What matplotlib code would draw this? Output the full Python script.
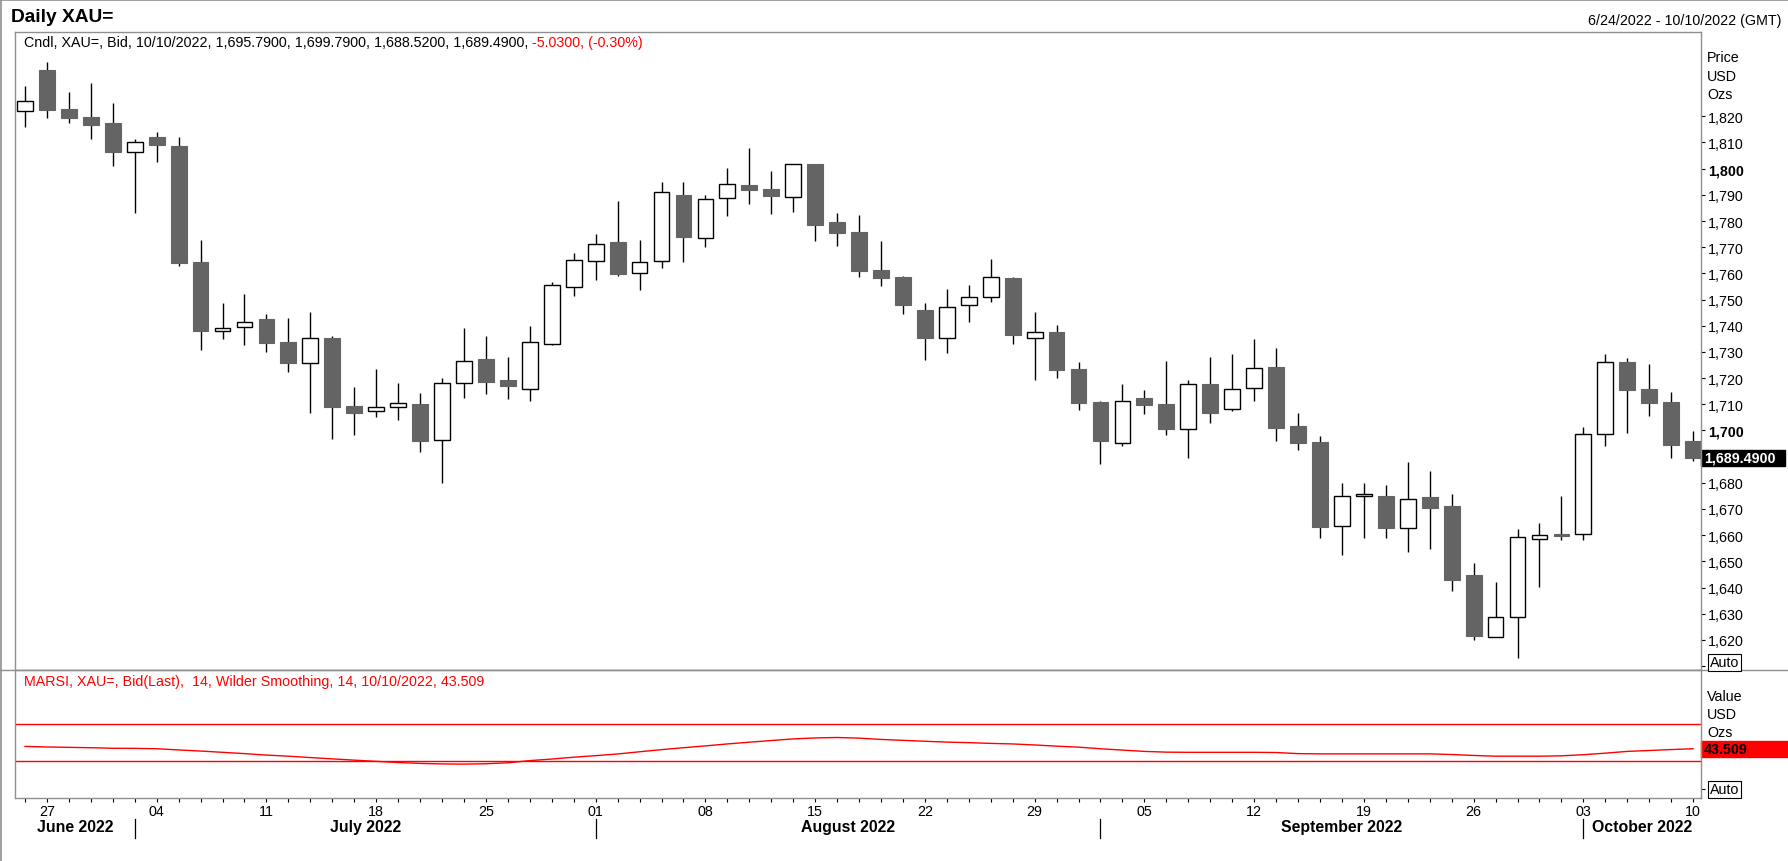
import numpy as np
import pandas as pd
import matplotlib
matplotlib.use("Agg")
import matplotlib.pyplot as plt
import matplotlib.transforms as mtransforms
from matplotlib.patches import Rectangle
from matplotlib.lines import Line2D

plt.rcParams['font.family'] = ['Liberation Sans', 'DejaVu Sans']

# trading days shown on the chart (weekdays 24 Jun - 10 Oct 2022)
dates = pd.bdate_range("2022-06-24", "2022-10-10")

opens = [1821.9, 1837.7, 1822.7, 1819.8, 1817.4, 1806.5, 1812.1, 1808.7, 1764.4, 1738.0,
         1739.5, 1742.6, 1733.8, 1725.7, 1735.4, 1709.4, 1707.4, 1708.9, 1710.2, 1696.2,
         1718.0, 1727.4, 1719.2, 1716.0, 1733.2, 1754.7, 1764.7, 1771.9, 1760.1, 1764.7,
         1790.1, 1773.4, 1788.8, 1793.7, 1792.1, 1789.1, 1801.8, 1779.6, 1775.7, 1761.1,
         1758.5, 1746.2, 1735.2, 1747.8, 1750.9, 1758.2, 1735.2, 1737.7, 1723.5, 1710.9,
         1695.2, 1712.3, 1710.2, 1700.5, 1717.7, 1708.2, 1716.2, 1724.3, 1701.7, 1695.6,
         1663.4, 1674.9, 1675.1, 1662.6, 1674.6, 1671.2, 1644.8, 1621.0, 1628.6, 1658.5,
         1660.5, 1660.3, 1698.5, 1726.0, 1715.7, 1710.8, 1695.79]
highs = [1831.4, 1840.8, 1829.3, 1832.6, 1825.1, 1811.2, 1813.9, 1812.1, 1772.8, 1748.7,
         1752.1, 1744.4, 1743.0, 1745.3, 1736.0, 1716.6, 1723.5, 1718.2, 1714.3, 1719.9,
         1739.2, 1736.1, 1728.1, 1740.0, 1756.7, 1767.7, 1774.9, 1787.5, 1772.8, 1794.9,
         1794.9, 1789.8, 1800.3, 1807.9, 1799.0, 1801.9, 1801.9, 1783.1, 1782.3, 1772.3,
         1759.0, 1748.5, 1754.1, 1755.6, 1765.4, 1758.7, 1745.3, 1740.3, 1726.1, 1711.4,
         1717.7, 1715.4, 1726.6, 1719.1, 1728.1, 1729.2, 1734.9, 1731.5, 1706.7, 1697.9,
         1680.0, 1680.0, 1679.2, 1688.0, 1684.6, 1675.8, 1649.4, 1642.2, 1662.3, 1664.6,
         1675.0, 1701.3, 1729.1, 1727.5, 1725.2, 1714.5, 1699.79]
lows = [1816.1, 1819.4, 1817.6, 1811.5, 1801.2, 1783.2, 1802.7, 1762.7, 1730.9, 1735.0,
        1732.8, 1730.1, 1722.2, 1706.8, 1696.9, 1698.1, 1705.3, 1704.0, 1691.9, 1680.0,
        1712.5, 1714.0, 1712.2, 1711.1, 1732.6, 1751.3, 1757.3, 1759.1, 1753.8, 1762.2,
        1764.5, 1770.2, 1782.0, 1786.6, 1782.5, 1783.5, 1772.2, 1770.6, 1758.8, 1755.0,
        1744.3, 1726.8, 1729.7, 1741.6, 1748.9, 1733.2, 1719.4, 1720.2, 1708.0, 1687.3,
        1693.9, 1706.4, 1698.1, 1689.6, 1702.7, 1707.3, 1711.4, 1695.8, 1692.4, 1659.1,
        1652.6, 1659.1, 1658.8, 1653.4, 1654.9, 1638.5, 1619.8, 1621.0, 1613.2, 1640.1,
        1658.0, 1658.0, 1693.9, 1699.1, 1705.7, 1689.6, 1688.52]
closes = [1826.0, 1822.5, 1819.4, 1816.8, 1806.5, 1810.1, 1808.9, 1764.1, 1738.1, 1739.3,
          1741.6, 1733.5, 1725.7, 1735.2, 1709.1, 1706.5, 1708.8, 1710.6, 1696.1, 1718.3,
          1726.5, 1718.6, 1716.8, 1733.7, 1755.5, 1765.0, 1771.4, 1759.6, 1764.5, 1790.9,
          1774.0, 1788.3, 1794.0, 1792.0, 1789.4, 1801.6, 1778.6, 1775.3, 1760.8, 1758.1,
          1747.8, 1735.5, 1747.3, 1750.9, 1758.5, 1736.6, 1737.5, 1723.2, 1710.3, 1695.8,
          1711.3, 1709.9, 1700.7, 1717.6, 1706.8, 1715.7, 1723.7, 1701.1, 1695.3, 1663.2,
          1674.9, 1675.7, 1662.9, 1673.8, 1670.3, 1642.7, 1621.3, 1628.6, 1659.2, 1659.9,
          1659.6, 1698.8, 1726.0, 1715.5, 1710.6, 1694.52, 1689.49]
rsi_vals = [46.0, 45.4, 45.0, 44.6, 44.0, 43.9, 43.5, 42.2, 41.0, 39.6,
            38.2, 36.6, 35.4, 33.9, 32.5, 31.1, 29.8, 28.5, 27.6, 27.0,
            26.8, 27.2, 28.2, 30.6, 32.3, 34.3, 36.0, 37.8, 40.2, 42.5,
            44.6, 46.6, 48.7, 50.6, 52.4, 54.2, 55.2, 55.7, 55.0, 53.6,
            52.6, 51.6, 50.7, 50.1, 49.3, 48.7, 47.6, 46.3, 45.2, 43.5,
            42.0, 40.6, 39.8, 39.6, 39.6, 39.6, 39.6, 39.4, 38.2, 37.9,
            37.9, 37.9, 37.9, 37.9, 37.9, 37.2, 36.2, 35.4, 35.4, 35.4,
            35.8, 37.0, 38.7, 40.6, 41.6, 42.6, 43.509]
price_ticks = list(range(1610, 1821, 10))
rsi_levels = [70, 30]

W, H = 1788, 862
GRAY = '#8f8f8f'
DARK = '#646464'
FS = 10.3


def fx(x):
    return x / W


def fy(y):
    return 1 - y / H


fig = plt.figure(figsize=(W / 100, H / 100), dpi=100)
left, right = 15, 1701
ax = fig.add_axes([fx(left), fy(671), fx(right - left), (671 - 33) / H])
ax2 = fig.add_axes([fx(left), fy(799), fx(right - left), (799 - 671) / H], sharex=ax)

x = np.arange(len(dates))
o = np.array(opens); h = np.array(highs); l = np.array(lows); c = np.array(closes)

# candles
ax.vlines(x, l, h, color='black', lw=1.0, zorder=1)
bw = 0.72
for i in x:
    lo, hi = min(o[i], c[i]), max(o[i], c[i])
    if c[i] >= o[i]:
        ax.add_patch(Rectangle((i - bw / 2, lo), bw, hi - lo, facecolor='white',
                               edgecolor='black', lw=1.0, zorder=2))
    else:
        ax.add_patch(Rectangle((i - bw / 2, lo), bw, hi - lo, facecolor=DARK,
                               edgecolor=DARK, lw=0.8, zorder=2))

ax.set_xlim(-0.456, 76.36)
ax.set_ylim(1608.5, 1852.2)

# labels hidden under the last-price box are left blank
ax.yaxis.tick_right()
ax.set_yticks(price_ticks, ['' if v == 1610 or abs(v - c[-1]) < 5 else f'{v:,}'
                            for v in price_ticks])
for lab, v in zip(ax.get_yticklabels(), price_ticks):
    if v % 100 == 0:
        lab.set_fontweight('bold')
ax.tick_params(axis='y', direction='out', length=3, width=0.8, pad=2, labelsize=FS)
ax.tick_params(axis='x', bottom=False, labelbottom=False)

# RSI panel
ax2.plot(x, rsi_vals, color='red', lw=1.0)
for lv in rsi_levels:
    ax2.axhline(lv, color='red', lw=1.0)
ax2.set_ylim(-10, 129)
ax2.yaxis.tick_right()
ax2.set_yticks([0], [''])
ax2.tick_params(axis='y', direction='out', length=3, width=0.8)

ax2.set_xticks(x, [d.strftime('%d') if d.weekday() == 0 else '' for d in dates])
ax2.tick_params(axis='x', direction='out', length=3, width=0.8, pad=1.5, labelsize=FS)

for a in (ax, ax2):
    for s in a.spines.values():
        s.set_color(GRAY)
        s.set_linewidth(1.0)

# month separators and labels
trans = mtransforms.blended_transform_factory(ax2.transData, fig.transFigure)
months = dates.to_period('M')
starts = [i for i in range(1, len(dates)) if months[i] != months[i - 1]]
edges = [-0.456] + starts + [76.36]
for s in starts:
    ax2.add_line(Line2D([s, s], [fy(820), fy(839)], transform=trans, color='black',
                        lw=0.9, clip_on=False))
for k in range(len(edges) - 1):
    first = dates[max(int(np.ceil(edges[k])), 0)]
    ax2.text((edges[k] + edges[k + 1]) / 2, fy(828), first.strftime('%B %Y'),
             transform=trans, ha='center', va='center', fontsize=11.4, fontweight='bold')

# last value boxes
tr_main = mtransforms.blended_transform_factory(ax.transAxes, ax.transData)
ax.add_patch(Rectangle((1.0, c[-1] - 3.15), (1785 - right) / (right - left), 6.3,
                       transform=tr_main, facecolor='black', edgecolor='black', clip_on=False))
ax.text((1704 - left) / (right - left), c[-1], f'{c[-1]:,.4f}', transform=tr_main,
        color='white', fontweight='bold', fontsize=FS, va='center', ha='left', clip_on=False)
tr_rsi = mtransforms.blended_transform_factory(ax2.transAxes, ax2.transData)
ax2.add_patch(Rectangle((1.0, rsi_vals[-1] - 8.7), (1788 - right) / (right - left), 17.4,
                        transform=tr_rsi, facecolor='red', edgecolor='red', clip_on=False))
ax2.text((1703.5 - left) / (right - left), rsi_vals[-1], f'{rsi_vals[-1]:.3f}', transform=tr_rsi,
         color='black', fontweight='bold', fontsize=FS, va='center', ha='left', clip_on=False)

# frame lines
fig.add_artist(Line2D([0, 1], [fy(671), fy(671)], color=GRAY, lw=1.0))
fig.add_artist(Line2D([fx(0.5), fx(0.5)], [0, 1], color=GRAY, lw=1.2))
fig.add_artist(Line2D([0, 1], [fy(0.5), fy(0.5)], color=GRAY, lw=1.2))

# texts
fig.text(fx(11), fy(17), 'Daily XAU=', fontsize=13.8, fontweight='bold', va='center', ha='left')
fig.text(fx(1782), fy(21.5), f'{dates[0]:%-m/%-d/%Y} - {dates[-1]:%m/%d/%Y} (GMT)',
         fontsize=FS, va='center', ha='right')
chg = c[-1] - c[-2]
t1 = fig.text(fx(23.7), fy(43.3),
              f'Cndl, XAU=, Bid, {dates[-1]:%m/%d/%Y}, {o[-1]:,.4f}, {h[-1]:,.4f}, {l[-1]:,.4f}, {c[-1]:,.4f},',
              fontsize=FS, va='center', ha='left')
ax.annotate(f' {chg:.4f}, ({chg / c[-2] * 100:.2f}%)', xy=(1, 0), xycoords=t1,
            ha='left', va='bottom', fontsize=FS, color='red', annotation_clip=False)
fig.text(fx(23.7), fy(681.7),
         f'MARSI, XAU=, Bid(Last),  14, Wilder Smoothing, 14, {dates[-1]:%m/%d/%Y}, {rsi_vals[-1]:.3f}',
         fontsize=FS, color='red', va='center', ha='left')

for yy, s in zip([58.3, 76.7, 94.7], ['Price', 'USD', 'Ozs']):
    fig.text(fx(1707), fy(yy), s, fontsize=FS, va='center', ha='left')
for yy, s in zip([696.7, 715, 733.3], ['Value', 'USD', 'Ozs']):
    fig.text(fx(1707), fy(yy), s, fontsize=FS, va='center', ha='left')
for yy in [663.5, 790.5]:
    fig.text(fx(1709.5), fy(yy), 'Auto', fontsize=FS, va='center', ha='left',
             bbox=dict(boxstyle='square,pad=0.12', facecolor='white', edgecolor='black', lw=0.8))

fig.savefig('out.png', dpi=100)
